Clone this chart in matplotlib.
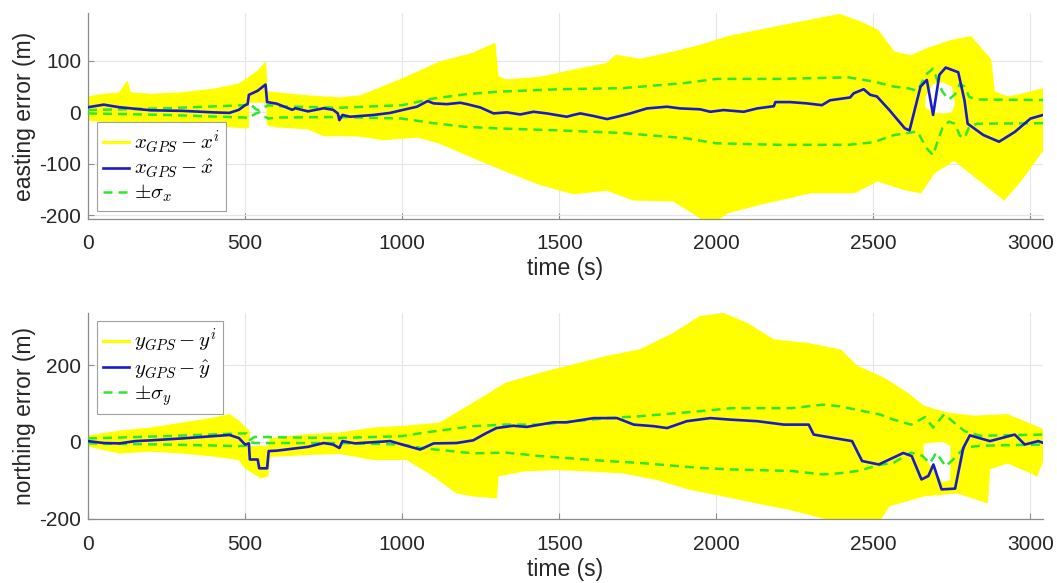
import numpy as np
import matplotlib.pyplot as plt

plt.rcParams['font.family'] = ['Liberation Sans', 'DejaVu Sans']
plt.rcParams['mathtext.fontset'] = 'cm'

# ---------------- easting (top panel) ----------------
# particle cloud envelope: upper edge and lower edge
t_cloud_e_up = [0, 50, 100, 125, 135, 200, 300, 400, 480, 505, 540, 565, 570, 600, 700, 800, 866, 940,
                1015, 1120, 1226, 1295, 1305, 1330, 1439, 1545, 1651, 1680, 1757, 1863, 1948, 2036,
                2142, 2248, 2391, 2450, 2513, 2566, 2620, 2672, 2750, 2810, 2873, 2885, 2926, 2970, 3040]
cloud_e_up = [30, 35, 38, 60, 38, 35, 38, 45, 55, 65, 80, 97, 40, 38, 32, 28, 32, 50,
              69, 98, 115, 134, 70, 63, 68, 82, 95, 111, 103, 117, 130, 147,
              160, 173, 190, 178, 160, 117, 110, 124, 140, 147, 103, 40, 30, 35, 46]
t_cloud_e_lo = [0, 100, 200, 300, 400, 500, 510, 512, 568, 572, 600, 700, 750, 802, 866, 940, 1050,
                1120, 1226, 1330, 1439, 1545, 1651, 1736, 1863, 1927, 1960, 2000, 2036, 2142, 2301,
                2439, 2513, 2600, 2651, 2693, 2757, 2863, 2916, 2970, 3040]
cloud_e_lo = [-15, -20, -22, -24, -26, -30, -30, 20, 20, -25, -28, -32, -45, -45, -46, -53, -48,
              -60, -88, -114, -140, -158, -151, -170, -172, -196, -210, -210, -195, -178, -156,
              -156, -133, -150, -156, -118, -93, -144, -170, -132, -73]
# white gap inside the cloud under the estimate hump
t_gap_e = [2665, 2690, 2720, 2750, 2760, 2750, 2720, 2690, 2665]
gap_e = [30, 55, 58, 50, 20, 0, -2, 0, 10]

# GPS minus estimate
t_est_e = [0, 50, 100, 150, 200, 300, 400, 450, 480, 500, 508, 512, 540, 565, 570, 600, 650, 660,
           700, 750, 780, 795, 800, 810, 834, 866, 909, 962, 1000, 1047, 1081, 1100, 1142, 1185,
           1206, 1248, 1291, 1333, 1376, 1418, 1460, 1524, 1545, 1567, 1609, 1652, 1684, 1726,
           1779, 1843, 1885, 1948, 1981, 2023, 2087, 2130, 2183, 2188, 2235, 2288, 2336, 2362,
           2426, 2437, 2469, 2490, 2511, 2550, 2600, 2615, 2650, 2670, 2690, 2710, 2730, 2770,
           2790, 2800, 2850, 2900, 2950, 3000, 3040]
est_e = [10, 15, 10, 7, 4, 3, 0, -1, 5, 14, 16, 34, 42, 54, 20, 17, 5, 8,
         2, 8, 5, -2, -15, -5, -8.5, -7, -5, -1, 4.5, 11, 22, 17.5, 16, 18.7,
         16, 9.7, -2, 0, -4, 1.2, -2, -8.5, -5, -2, -7, -13, -8.5, -2,
         7.7, 11, 7.7, 6, 1.2, 4.5, 1.2, 7.7, 12, 20, 20, 17.5, 14, 23.5,
         29, 37, 45, 34, 31, 5, -31, -35, 50, 63, -5, 73, 87, 78,
         23, -22, -44, -57, -38, -12, -5]

# +/- sigma
t_sig_e = [0, 250, 500, 510, 520, 535, 545, 560, 575, 600, 800, 1000, 1100, 1200, 1300, 1500,
           1700, 1900, 2000, 2200, 2420, 2500, 2566, 2610, 2640, 2670, 2690, 2705, 2720, 2740,
           2760, 2775, 2790, 2805, 2830, 3040]
sig_e_up = [4.5, 8, 14, 17, 14, 6, 4, 10, 14, 12, 9, 14, 27, 35, 40, 45,
            47, 57, 65, 65, 68, 60, 50, 47, 42, 75, 85, 60, 40, 25,
            35, 55, 50, 30, 25, 24]
sig_e_lo = [-2, -5, -10, -12, -7, -2, 0, -8, -12, -10, -9, -12, -21, -28, -31, -35,
            -40, -50, -60, -63, -63, -58, -44, -40, -37, -70, -83, -55, -30, -18,
            -22, -45, -50, -28, -22, -21]

# ---------------- northing (bottom panel) ----------------
t_cloud_n_up = [0, 100, 200, 300, 400, 450, 480, 500, 512, 515, 575, 580, 600, 700, 800, 908,
                1015, 1120, 1226, 1330, 1439, 1545, 1651, 1757, 1863, 1948, 2023, 2098, 2183,
                2289, 2395, 2449, 2534, 2608, 2661, 2735, 2820, 2927, 3041]
cloud_n_up = [15, 28, 36, 49, 62, 71, 54, 36, 30, -12, -12, 8, 10, 19, 23, 36,
              41, 49, 101, 153, 179, 201, 223, 240, 283, 327, 335, 309, 266,
              257, 240, 197, 166, 127, 93, 75, 67, 71, 32]
t_cloud_n_lo = [0, 100, 200, 300, 400, 480, 500, 550, 572, 580, 600, 700, 800, 908, 1015, 1100,
                1173, 1226, 1300, 1305, 1385, 1492, 1598, 1704, 1810, 1917, 2023, 2127, 2233,
                2371, 2520, 2550, 2661, 2767, 2863, 2870, 2927, 3000, 3020, 3041]
cloud_n_lo = [-11, -29, -24, -29, -37, -46, -68, -94, -89, -37, -37, -33, -30, -46, -46, -89,
              -133, -141, -146, -89, -76, -72, -76, -81, -98, -124, -141, -159, -176,
              -205, -205, -167, -141, -133, -159, -70, -55, -80, -89, -46]
t_gap_n = [2660, 2690, 2720, 2745, 2745, 2720, 2690, 2660]
gap_n = [-5, -2, 0, -10, -100, -105, -70, -40]

t_est_n = [0, 50, 100, 150, 200, 300, 400, 450, 480, 500, 512, 515, 540, 545, 570, 575, 600, 700,
           750, 780, 800, 810, 850, 866, 962, 1000, 1057, 1100, 1173, 1226, 1268, 1300, 1353,
           1396, 1481, 1524, 1609, 1684, 1737, 1800, 1843, 1906, 1981, 2045, 2130, 2215, 2294,
           2310, 2374, 2432, 2464, 2517, 2595, 2622, 2653, 2675, 2691, 2717, 2760, 2786, 2807,
           2871, 2950, 2982, 3025, 3041]
est_n = [2, -3, -4, 2, 4, 9, 15, 18, 10, -7, -4, -46, -46, -69, -69, -24, -23, -13,
         -3, -7, -16, 2, -4, -3, 2, -7, -20, -4, -3, 4, 23, 36, 42,
         39, 51, 51, 62, 62, 45, 41, 36, 54, 62, 58, 54, 45, 45,
         19, 10, 2, -50, -59, -29, -37, -98, -89, -59, -124, -122, -16, 17,
         2, 19, -7, 2, -3]

t_sig_n_up = [0, 250, 480, 505, 515, 530, 600, 800, 1000, 1060, 1226, 1330, 1439, 1651, 1757,
              1948, 2050, 2240, 2339, 2392, 2498, 2522, 2565, 2620, 2665, 2690, 2725, 2750, 2790,
              2840, 3041]
sig_n_up = [9, 15, 22, 22, 5, 13, 12, 10, 15, 23, 41, 45, 45, 62, 67,
            80, 88, 88, 97, 93, 75, 71, 58, 45, 65, 37, 72, 55, 28,
            16, 19]
t_sig_n_lo = [0, 250, 480, 505, 515, 530, 600, 800, 1000, 1060, 1226, 1330, 1439, 1651, 1757,
              1948, 2050, 2240, 2339, 2392, 2449, 2522, 2565, 2620, 2655, 2680, 2700, 2730, 2755,
              2790, 2840, 3041]
sig_n_lo = [-4, -7, -11, -10, 0, -3, -3, -3, -7, -16, -30, -28, -37, -50, -55,
            -68, -72, -76, -85, -82, -76, -60, -54, -28, -36, -56, -28, -64, -45,
            -15, -10, -7]

YELLOW = '#ffff00'
BLUE = '#1a1ac8'
GREEN = '#2ee82e'

fig = plt.figure(figsize=(10.57, 5.83), dpi=100)
ax1 = fig.add_axes([0.0833, 0.6244, 0.9035, 0.3533])
ax2 = fig.add_axes([0.0833, 0.1093, 0.9035, 0.3543])


def draw_panel(ax, tu, up, tl, lo, tg, gap, te, est, tsu, su, tsl, sl, var):
    xs = np.concatenate([tu, tl[::-1]])
    ys = np.concatenate([up, lo[::-1]])
    ax.fill(xs, ys, color=YELLOW, lw=0.8, ec=YELLOW, zorder=2)
    ax.fill(tg, gap, color='white', lw=0, zorder=2.5)
    ax.plot([], [], color=YELLOW, lw=2.2, label=r'$%s_{GPS} - %s^i$' % (var, var))
    ax.plot(te, est, color=BLUE, lw=1.9, zorder=4,
            label=r'$%s_{GPS} - \hat{%s}$' % (var, var))
    ax.plot(tsu, su, color=GREEN, lw=1.8, dashes=(3.6, 2.4), zorder=3,
            label=r'$\pm\sigma_%s$' % var)
    ax.plot(tsl, sl, color=GREEN, lw=1.8, dashes=(3.6, 2.4), zorder=3)

    ax.set_xlim(0, 3040)
    ax.set_xticks([0, 500, 1000, 1500, 2000, 2500, 3000])
    ax.set_xlabel('time (s)', fontsize=16.5, color='#262626', labelpad=3)
    ax.grid(True, color='#e6e6e6', lw=0.8, zorder=0)
    ax.set_axisbelow(True)
    for s in ('top', 'right'):
        ax.spines[s].set_visible(False)
    for s in ('left', 'bottom'):
        ax.spines[s].set_color('#8c8c8c')
        ax.spines[s].set_linewidth(0.9)
    ax.tick_params(direction='in', length=4, width=0.8, colors='#8c8c8c',
                   labelcolor='#262626', labelsize=15, pad=5)
    ax.tick_params(axis='x', pad=11)
    ax.yaxis.set_major_formatter(plt.FuncFormatter(lambda v, p: '%d' % v))


def add_legend(ax, loc, anchor):
    leg = ax.legend(loc=loc, bbox_to_anchor=anchor, fontsize=15,
                    handlelength=1.25, handletextpad=0.25, borderpad=0.3, labelspacing=0.12,
                    fancybox=False, framealpha=1, edgecolor='#a0a0a0', borderaxespad=0)
    leg.get_frame().set_linewidth(0.8)
    leg.set_zorder(10)


draw_panel(ax1, np.array(t_cloud_e_up), np.array(cloud_e_up), np.array(t_cloud_e_lo),
           np.array(cloud_e_lo), t_gap_e, gap_e, t_est_e, est_e, t_sig_e, sig_e_up,
           t_sig_e, sig_e_lo, 'x')
ax1.set_ylim(-207, 193)
ax1.set_yticks([-200, -100, 0, 100])
ax1.set_ylabel('easting error (m)', fontsize=16.5, color='#262626', labelpad=2)
add_legend(ax1, 'lower left', (0.009, 0.04))

draw_panel(ax2, np.array(t_cloud_n_up), np.array(cloud_n_up), np.array(t_cloud_n_lo),
           np.array(cloud_n_lo), t_gap_n, gap_n, t_est_n, est_n, t_sig_n_up, sig_n_up,
           t_sig_n_lo, sig_n_lo, 'y')
ax2.set_ylim(-202, 337)
ax2.set_yticks([-200, 0, 200])
ax2.set_ylabel('northing error (m)', fontsize=16.5, color='#262626', labelpad=2)
add_legend(ax2, 'upper left', (0.009, 0.96))

fig.savefig('out.png', dpi=100)
